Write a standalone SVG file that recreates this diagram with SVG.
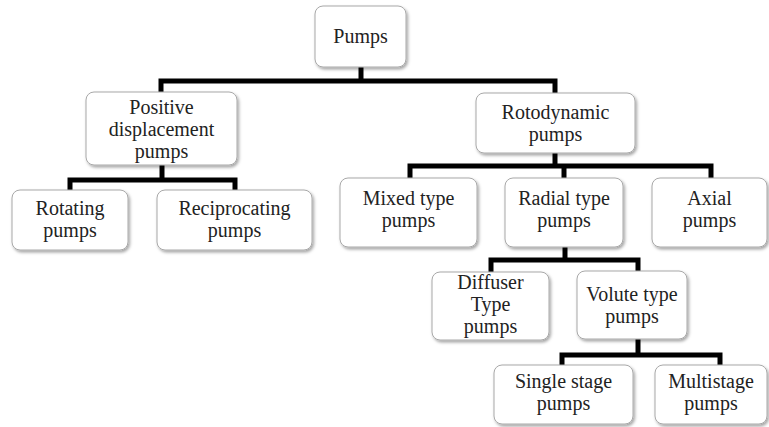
<svg xmlns="http://www.w3.org/2000/svg" width="769" height="427" viewBox="0 0 769 427">
<defs>
<filter id="sh" x="-10%" y="-10%" width="125%" height="130%">
<feDropShadow dx="1.5" dy="2" stdDeviation="1.5" flood-color="#000" flood-opacity="0.35"/>
</filter>
<style>
.box{fill:#fff;stroke:#a8a8a8;stroke-width:1;filter:url(#sh)}
.t{font-family:"Liberation Serif","Times New Roman",serif;font-size:20px;fill:#222;text-anchor:middle}
.c{fill:none;stroke:#000;stroke-width:5;stroke-linejoin:miter;stroke-linecap:butt}
</style>
</defs>
<rect width="769" height="427" fill="#fff"/>
<g id="connectors">
<path class="c" d="M361,67 V81"/>
<path class="c" d="M161,92 V81 H555 V93"/>
<path class="c" d="M162,165 V180"/>
<path class="c" d="M70,190 V180 H235 V190"/>
<path class="c" d="M555,153 V166"/>
<path class="c" d="M410,178 V166 H711 V178"/>
<path class="c" d="M564,166 V178"/>
<path class="c" d="M565,247 V260"/>
<path class="c" d="M491,272 V260 H638 V271"/>
<path class="c" d="M638,339 V355"/>
<path class="c" d="M562,365 V355 H720 V365"/>
</g>
<g id="pumps"><rect class="box" x="315" y="6" width="91" height="61" rx="8"/><text class="t" x="360.5" y="43">Pumps</text></g>
<g id="positive-displacement"><rect class="box" x="86" y="92" width="151" height="73" rx="8"/><text class="t" x="161.5" y="114">Positive</text><text class="t" x="161.5" y="136">displacement</text><text class="t" x="161.5" y="158">pumps</text></g>
<g id="rotodynamic"><rect class="box" x="476" y="93" width="159" height="60" rx="8"/><text class="t" x="555.5" y="119">Rotodynamic</text><text class="t" x="555.5" y="141">pumps</text></g>
<g id="rotating"><rect class="box" x="12" y="190" width="116" height="60" rx="8"/><text class="t" x="70" y="215">Rotating</text><text class="t" x="70" y="237">pumps</text></g>
<g id="reciprocating"><rect class="box" x="157" y="190" width="155" height="60" rx="8"/><text class="t" x="234.5" y="215">Reciprocating</text><text class="t" x="234.5" y="237">pumps</text></g>
<g id="mixed"><rect class="box" x="340" y="178" width="137" height="69" rx="8"/><text class="t" x="408.5" y="205">Mixed type</text><text class="t" x="408.5" y="227">pumps</text></g>
<g id="radial"><rect class="box" x="505" y="178" width="118" height="69" rx="8"/><text class="t" x="564" y="205">Radial type</text><text class="t" x="564" y="227">pumps</text></g>
<g id="axial"><rect class="box" x="652" y="178" width="115" height="69" rx="8"/><text class="t" x="709.5" y="205">Axial</text><text class="t" x="709.5" y="227">pumps</text></g>
<g id="diffuser"><rect class="box" x="432" y="272" width="117" height="68" rx="8"/><text class="t" x="490.5" y="289">Diffuser</text><text class="t" x="490.5" y="311">Type</text><text class="t" x="490.5" y="333">pumps</text></g>
<g id="volute"><rect class="box" x="577" y="271" width="110" height="68" rx="8"/><text class="t" x="632" y="301">Volute type</text><text class="t" x="632" y="323">pumps</text></g>
<g id="single-stage"><rect class="box" x="494" y="365" width="139" height="59" rx="8"/><text class="t" x="563.5" y="388">Single stage</text><text class="t" x="563.5" y="410">pumps</text></g>
<g id="multistage"><rect class="box" x="655" y="365" width="112" height="59" rx="8"/><text class="t" x="711" y="388">Multistage</text><text class="t" x="711" y="410">pumps</text></g>
</svg>
